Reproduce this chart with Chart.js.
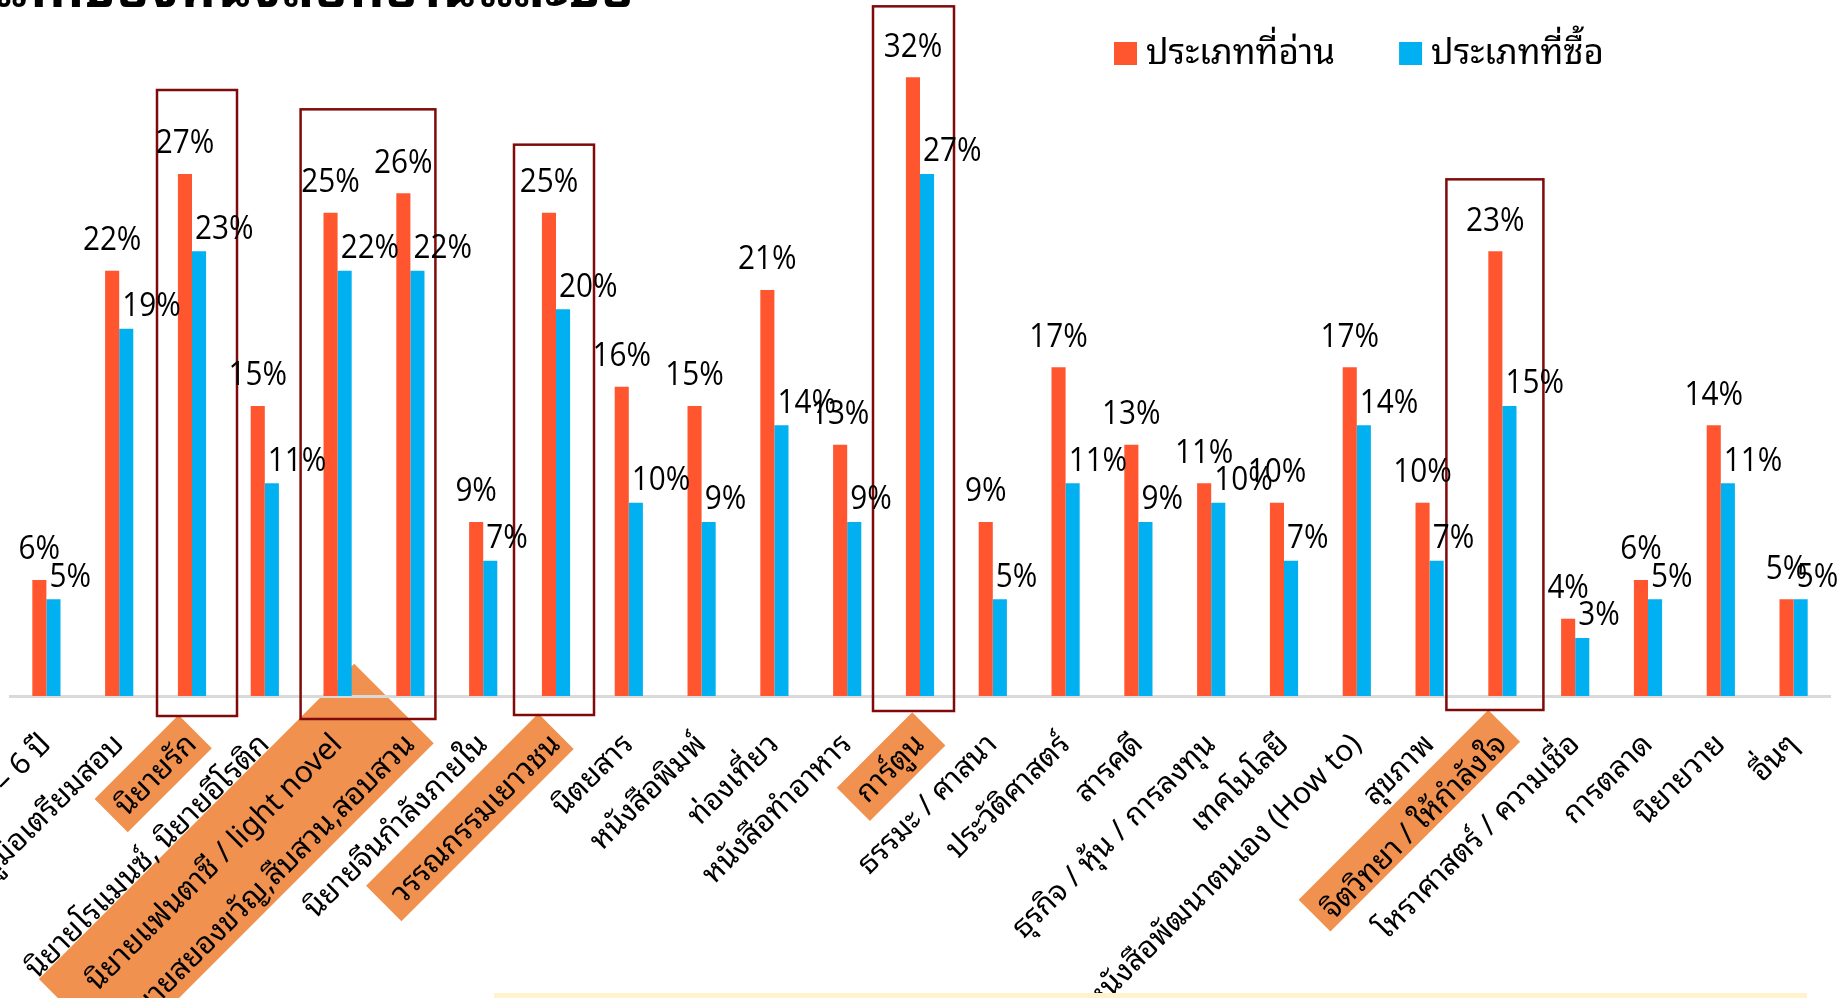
<!DOCTYPE html>
<html><head><meta charset="utf-8">
<script src="https://cdn.jsdelivr.net/npm/chart.js@4/dist/chart.umd.min.js"></script>
<style>
html,body{margin:0;padding:0;background:#fff;overflow:hidden}
#wrap{position:relative;width:1842px;height:998px;background:#fff}
canvas{display:block}
</style></head>
<body><div id="wrap"><canvas id="c" width="1842" height="998"></canvas></div>
<script>
// ---------------- data ----------------
const categories = [
  'หนังสือเด็ก 0 – 6 ปี',
  'คู่มือเตรียมสอบ',
  'นิยายรัก',
  'นิยายโรแมนซ์, นิยายอีโรติก',
  'นิยายแฟนตาซี / light novel',
  'นิยายสยองขวัญ,สืบสวน,สอบสวน',
  'นิยายจีนกำลังภายใน',
  'วรรณกรรมเยาวชน',
  'นิตยสาร',
  'หนังสือพิมพ์',
  'ท่องเที่ยว',
  'หนังสือทำอาหาร',
  'การ์ตูน',
  'ธรรมะ / ศาสนา',
  'ประวัติศาสตร์',
  'สารคดี',
  'ธุรกิจ / หุ้น / การลงทุน',
  'เทคโนโลยี',
  'หนังสือพัฒนาตนเอง (How to)',
  'สุขภาพ',
  'จิตวิทยา / ให้กำลังใจ',
  'โหราศาสตร์ / ความเชื่อ',
  'การตลาด',
  'นิยายวาย',
  'อื่นๆ'
];
const readShare = [6, 22, 27, 15, 25, 26, 9, 25, 16, 15, 21, 13, 32, 9, 17, 13, 11, 10, 17, 10, 23, 4, 6, 14, 5];
const buyShare  = [5, 19, 23, 11, 22, 22, 7, 20, 10,  9, 14,  9, 27, 5, 11,  9, 10,  7, 14,  7, 15, 3, 5, 11, 5];
const seriesNames = ['ประเภทที่อ่าน', 'ประเภทที่ซื้อ'];
const chartTitle = 'ประเภทของหนังสือที่อ่านและซื้อ';
const yAxisMax = 36;

// annotation groups (category indices)
const labelHighlights = [
  {cats: [2],     pad: [10, 27, 8, 20]},
  {cats: [4, 5],  pad: [30, 42, 14, 19]},
  {cats: [7],     pad: [12, 31, 6, 19]},
  {cats: [12],    pad: [10, 25, 14, 22]},
  {cats: [20],    pad: [10, 31, 11, 14]}
];
const outlineBoxes = [
  {cats: [2],    left: 35, right: 45, above: 84, below: 20},
  {cats: [4, 5], left: 37, right: 25, above: 84, below: 23},
  {cats: [7],    left: 42, right: 38, above: 68, below: 19},
  {cats: [12],   left: 47, right: 34, above: 71, below: 15},
  {cats: [20],   left: 56, right: 41, above: 72, below: 14}
];

// ---------------- style ----------------
const ORANGE = '#FF5630';
const BLUE = '#00B0F0';
const HL = '#F0914F';
const BOXRED = '#7F0A0A';
const THAI = "'Noto Sans Thai Looped',Loma,Garuda,Tahoma,'Noto Sans Thai','Noto Sans',sans-serif";
const TICK_SIZE = 30;
const TICK_PAD = 31;
const ROT = Math.PI / 4;

function labelAnchor(chart, i) {
  const xs = chart.scales.x;
  const lh = TICK_SIZE * 1.2;
  return {x: xs.getPixelForTick(i), y: xs.top + TICK_PAD + lh * Math.cos(ROT) / 2};
}

const decorPlugin = {
  id: 'decor',
  beforeDraw(chart) {
    const ctx = chart.ctx;
    const xs = chart.scales.x;
    const spacing = xs.getPixelForTick(1) - xs.getPixelForTick(0);
    ctx.save();
    ctx.font = TICK_SIZE + 'px ' + THAI;
    labelHighlights.forEach(g => {
      const a = g.cats[0];
      const anc = labelAnchor(chart, a);
      let minX = Infinity, maxX = -Infinity, minY = Infinity, maxY = -Infinity;
      g.cats.forEach(j => {
        const off = (j - a) * spacing * Math.cos(ROT);
        const w = ctx.measureText(categories[j]).width;
        minX = Math.min(minX, off - w); maxX = Math.max(maxX, off);
        minY = Math.min(minY, off); maxY = Math.max(maxY, off);
      });
      ctx.save();
      ctx.translate(anc.x, anc.y);
      ctx.rotate(-ROT);
      ctx.fillStyle = HL;
      const [pl, pt, pr, pb] = g.pad;
      ctx.fillRect(minX - pl, minY - pt, (maxX + pr) - (minX - pl), (maxY + pb) - (minY - pt));
      ctx.restore();
    });
    ctx.restore();
  },
  afterDatasetsDraw(chart) {
    const ctx = chart.ctx;
    const xs = chart.scales.x, ys = chart.scales.y;
    ctx.save();
    ctx.strokeStyle = BOXRED;
    ctx.lineWidth = 2.5;
    outlineBoxes.forEach(b => {
      const x1 = xs.getPixelForTick(b.cats[0]) - b.left;
      const x2 = xs.getPixelForTick(b.cats[b.cats.length - 1]) + b.right;
      const maxV = Math.max(...b.cats.map(i => Math.max(readShare[i], buyShare[i])));
      const y1 = ys.getPixelForValue(maxV) - b.above;
      const y2 = xs.top + b.below;
      ctx.strokeRect(x1, y1, x2 - x1, y2 - y1);
    });
    ctx.restore();
    ctx.save();
    ctx.fillStyle = '#000';
    ctx.font = "33px 'Open Sans', sans-serif";
    ctx.textBaseline = 'middle';
    ctx.textAlign = 'center';
    const sx = 0.9;
    chart.data.datasets.forEach((ds, di) => {
      const meta = chart.getDatasetMeta(di);
      meta.data.forEach((bar, i) => {
        const txt = ds.data[i] + '%';
        const w = ctx.measureText(txt).width * sx;
        let cx, cy;
        if (di === 0) { cx = bar.x; cy = bar.y - 30; }
        else { cx = bar.x - 4 + w / 2; cy = bar.y - 22; }
        ctx.save();
        ctx.translate(cx, cy);
        ctx.scale(sx, 1);
        ctx.fillText(txt, 0, 0);
        ctx.restore();
      });
    });
    ctx.restore();
  },
  afterDraw(chart) {
    const ctx = chart.ctx;
    ctx.save();
    ctx.fillStyle = '#000';
    ctx.font = 'bold 54px ' + THAI;
    ctx.textAlign = 'right';
    ctx.textBaseline = 'alphabetic';
    ctx.fillText(chartTitle, 634, 7);
    ctx.font = '35px ' + THAI;
    ctx.textAlign = 'left';
    ctx.textBaseline = 'middle';
    let x = 1114;
    chart.data.datasets.forEach(ds => {
      ctx.fillStyle = ds.backgroundColor;
      ctx.fillRect(x, 42, 23, 23);
      ctx.fillStyle = '#000';
      ctx.fillText(ds.label, x + 32, 54);
      x += 32 + ctx.measureText(ds.label).width + 64;
    });
    ctx.fillStyle = '#FFF2CC';
    ctx.fillRect(494, 993, 1313, 6);
    ctx.restore();
  }
};

new Chart(document.getElementById('c'), {
  type: 'bar',
  data: {
    labels: categories,
    datasets: [
      {label: seriesNames[0], data: readShare, backgroundColor: ORANGE, categoryPercentage: 0.387, barPercentage: 1},
      {label: seriesNames[1], data: buyShare, backgroundColor: BLUE, categoryPercentage: 0.387, barPercentage: 1}
    ]
  },
  options: {
    responsive: false,
    animation: false,
    devicePixelRatio: 1,
    layout: {padding: {left: 10, right: 12, top: 0, bottom: 0}},
    plugins: {legend: {display: false}, title: {display: false}, tooltip: {enabled: false}},
    scales: {
      x: {
        grid: {display: false, drawTicks: false},
        border: {display: true, color: '#D9D9D9', width: 3},
        ticks: {
          autoSkip: false, maxRotation: 45, minRotation: 45,
          padding: TICK_PAD, color: '#000',
          font: {size: TICK_SIZE, family: THAI}
        },
        afterFit(scale) {
          scale.paddingLeft = 0;
          scale.paddingRight = 0;
          scale.height = 302;
        }
      },
      y: {display: false, min: 0, max: yAxisMax}
    }
  },
  plugins: [decorPlugin]
});
</script>
</body></html>
